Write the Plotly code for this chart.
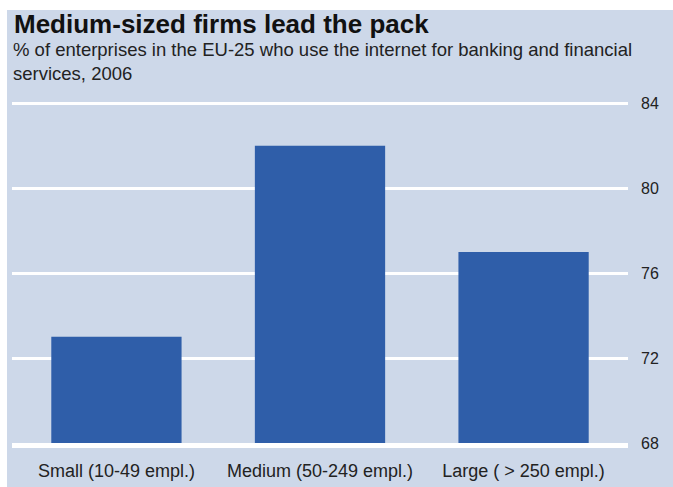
import plotly.graph_objects as go

# Share of EU-25 enterprises using the internet for banking/financial services, 2006
categories = ["Small (10-49 empl.)", "Medium (50-249 empl.)", "Large ( > 250 empl.)"]
values = [73, 82, 77]
y_ticks = [68, 72, 76, 80, 84]

W, H = 673, 487
L, R, T, B = 12, 45, 99, 44
plot_w = W - L - R
plot_h = H - T - B


def px_x(x):
    return (x - L) / plot_w


def px_y(y):
    return (H - B - y) / plot_h


panel = "#cdd8e9"
bar_col = "#2f5ea9"
text_col = "#222222"
font = "Liberation Sans, Arial, sans-serif"

fig = go.Figure(
    go.Bar(
        x=categories,
        y=values,
        marker=dict(color=bar_col, line=dict(width=0)),
        width=0.64,
        base=0,
    )
)

fig.update_layout(
    width=W,
    height=H,
    margin=dict(l=L, r=R, t=T, b=B, autoexpand=False),
    paper_bgcolor="white",
    plot_bgcolor="rgba(0,0,0,0)",
    showlegend=False,
    font=dict(family=font, color=text_col),
    bargap=0.36,
    shapes=[
        dict(
            type="rect", xref="paper", yref="paper",
            x0=px_x(7), x1=px_x(673), y0=px_y(487), y1=px_y(10),
            fillcolor=panel, line=dict(width=0), layer="below",
        )
    ],
    annotations=[
        dict(
            text="<b>Medium-sized firms lead the pack</b>",
            xref="paper", yref="paper", x=px_x(12), y=px_y(24.5),
            xanchor="left", yanchor="middle", showarrow=False,
            font=dict(size=26, color="#111111", family=font),
        ),
        dict(
            text="% of enterprises in the EU-25 who use the internet for banking and financial",
            xref="paper", yref="paper", x=px_x(11), y=px_y(50),
            xanchor="left", yanchor="middle", showarrow=False,
            font=dict(size=18.5, color=text_col, family=font),
        ),
        dict(
            text="services, 2006",
            xref="paper", yref="paper", x=px_x(11), y=px_y(73),
            xanchor="left", yanchor="middle", showarrow=False,
            font=dict(size=18.5, color=text_col, family=font),
        ),
    ],
)

fig.update_xaxes(
    range=[-0.513, 2.513],
    showgrid=False,
    showline=True,
    linecolor="white",
    linewidth=5,
    ticks="",
    ticklabelstandoff=7,
    automargin=False,
    tickfont=dict(size=18, color=text_col, family=font),
    fixedrange=True,
)

fig.update_yaxes(
    range=[68, 84.2],
    tickvals=y_ticks,
    ticktext=[str(v) for v in y_ticks],
    side="right",
    showgrid=True,
    gridcolor="white",
    gridwidth=3,
    zeroline=False,
    showline=False,
    ticks="",
    ticklabelstandoff=12,
    automargin=False,
    tickfont=dict(size=16, color=text_col, family=font),
    fixedrange=True,
)

fig.write_html("out.html")
